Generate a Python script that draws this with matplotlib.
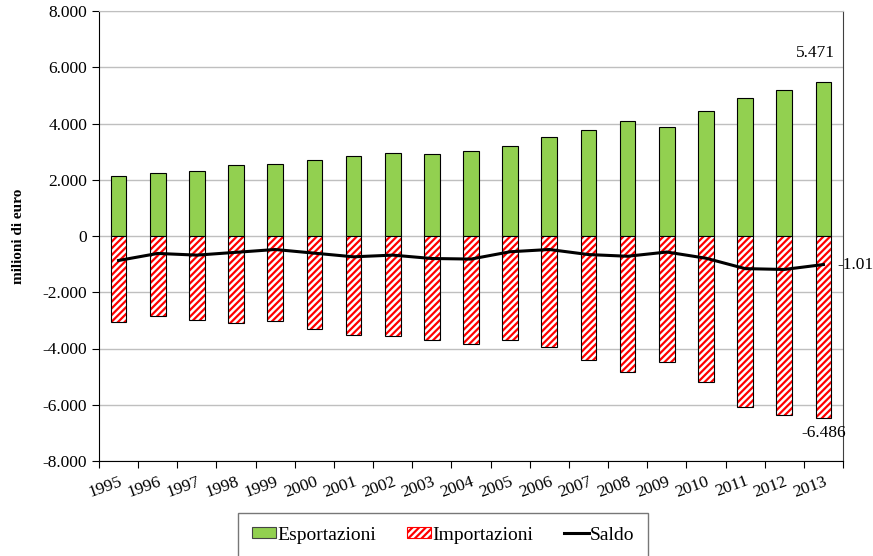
import numpy as np
import matplotlib.pyplot as plt
from matplotlib.patches import Patch
from matplotlib.lines import Line2D

plt.rcParams['font.family'] = ['Liberation Serif', 'DejaVu Serif']
plt.rcParams['hatch.linewidth'] = 1.6

#----------------- data (milioni di euro)
anni = [str(a) for a in range(1995, 2014)]
esportazioni = [2150, 2230, 2310, 2510, 2550, 2700, 2840, 2950, 2900, 3020,
                3200, 3520, 3770, 4090, 3890, 4440, 4900, 5180, 5471]
importazioni = [-3060, -2840, -2990, -3090, -3020, -3310, -3520, -3560, -3700, -3840,
                -3700, -3950, -4410, -4820, -4470, -5200, -6070, -6360, -6486]
saldo = [-870, -620, -680, -580, -480, -610, -740, -680, -800, -820,
         -560, -480, -660, -720, -570, -790, -1160, -1190, -1015]

x = np.arange(len(anni))
w = 0.4

fig = plt.figure(figsize=(8.73, 5.56), dpi=100)
ax = fig.add_axes([99/873, 1-461/556, 744/873, 450/556])

ax.bar(x, esportazioni, w, color='#92d050', edgecolor='black', linewidth=0.8,
       zorder=3)
# hatch in red, outline in black
ax.bar(x, importazioni, w, color='white', edgecolor='#ff0000', hatch='/////',
       linewidth=0, zorder=3)
ax.bar(x, importazioni, w, color='none', edgecolor='black', linewidth=0.8, zorder=3)
ax.plot(x, saldo, color='black', lw=2.2, zorder=4)

# legend
handles = [Patch(facecolor='#92d050', edgecolor='#444444', linewidth=0.8),
           Patch(facecolor='white', edgecolor='#ff0000', hatch='/////', linewidth=0.8),
           Line2D([0], [0], color='black', lw=2.2)]
leg = fig.legend(handles, ['Esportazioni', 'Importazioni', 'Saldo'], ncol=3,
                 loc='upper center', bbox_to_anchor=(443/873, 1-513/556),
                 frameon=True, fancybox=False, fontsize=14, handlelength=1.25,
                 handletextpad=0.05, columnspacing=1.6, borderpad=0.7,
                 borderaxespad=0, handleheight=0.5)
leg.get_frame().set_edgecolor('#555555')
leg.get_frame().set_linewidth(1.0)

#----------------- axes
ax.set_xlim(-0.5, len(anni)-0.5)
ax.set_ylim(-8000, 8000)
yt = np.arange(-8000, 8001, 2000)
ax.set_yticks(yt)
ax.set_yticklabels([f'{v:,}'.replace(',', '.') for v in yt], fontsize=12.5)
ax.set_xticks(np.arange(len(anni)+1)-0.5)
ax.set_xticklabels([])
ax.set_xticks(x, minor=True)
ax.set_xticklabels(anni, minor=True, rotation=20, ha='right', fontsize=12.5,
                   rotation_mode='anchor')
ax.tick_params(axis='x', which='minor', length=0, pad=9)
ax.tick_params(axis='x', which='major', length=5, direction='out')
ax.tick_params(axis='y', length=5, direction='out')
ax.grid(axis='y', color='#bfbfbf', lw=1.0, zorder=0)
ax.set_axisbelow(True)
ax.spines['top'].set_color('#bfbfbf')
ax.spines['right'].set_color('#404040')
ax.set_ylabel('milioni di euro', fontweight='bold', fontsize=11)
ax.yaxis.set_label_coords(-0.1, 0.5)

# annotations
ax.text(x[-1]+0.3, esportazioni[-1]+750, '5.471', ha='right', va='bottom', fontsize=12.5)
ax.text(x[-1]+0.35, saldo[-1], '-1.01', ha='left', va='center', fontsize=12.5)
ax.text(x[-1], importazioni[-1]-250, '-6.486', ha='center', va='top', fontsize=12.5)

fig.savefig('out.png', dpi=100)
